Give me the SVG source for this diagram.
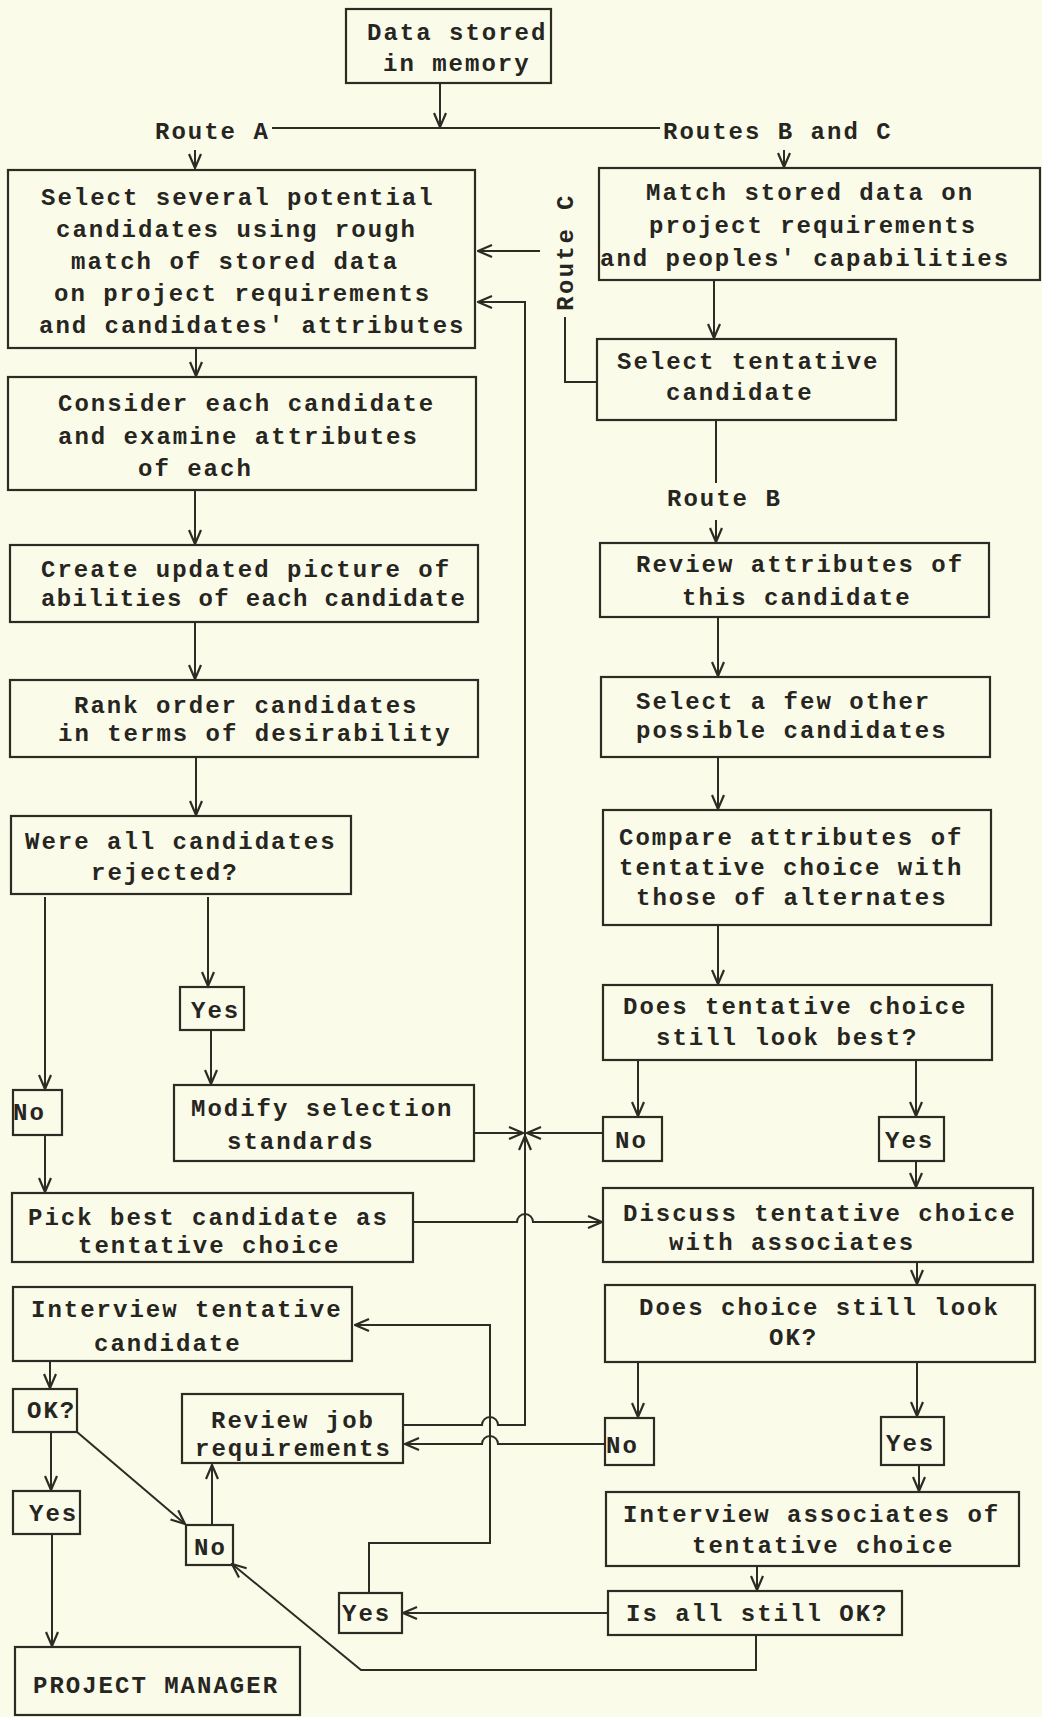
<svg xmlns="http://www.w3.org/2000/svg" width="1042" height="1717" viewBox="0 0 1042 1717">
<style>
.bg{fill:#fbfbe9}
.box{fill:none;stroke:#2c2b24;stroke-width:2.2}
.t{font-family:"Liberation Mono","Courier New",monospace;font-weight:bold;font-size:24px;letter-spacing:2px;fill:#26251f}
.rc{font-family:"Liberation Mono","Courier New",monospace;font-weight:bold;font-size:24px;letter-spacing:2.4px;fill:#26251f}
.c{fill:none;stroke:#2c2b24;stroke-width:2}
.a{marker-end:url(#ah)}
</style>
<defs>
<marker id="ah" viewBox="0 0 16 14" refX="15" refY="7" markerWidth="16" markerHeight="14" markerUnits="userSpaceOnUse" orient="auto">
<path d="M1,1 L15,7 L1,13" fill="none" stroke="#2c2b24" stroke-width="2.2"/>
</marker>
</defs>
<rect class="bg" x="0" y="0" width="1042" height="1717"/>

<g id="connectors">
<path class="c a" d="M440,83 V127"/>
<path class="c" d="M272,128 H660"/>
<path class="c a" d="M195,150 V168"/>
<path class="c a" d="M784,150 V167"/>
<path class="c a" d="M714,280 V338"/>
<path class="c" d="M597,382 H565 V317"/>
<path class="c a" d="M540,251 H478"/>
<path class="c a" d="M403,1425 H482 A8,8 0 0 1 498,1425 H525 V302 H478"/>
<path class="c a" d="M525,1162 V1136"/>
<path class="c a" d="M474,1133 H523"/>
<path class="c a" d="M603,1133 H527"/>
<path class="c a" d="M196,348 V376"/>
<path class="c a" d="M195,490 V544"/>
<path class="c a" d="M195,622 V679"/>
<path class="c a" d="M196,757 V815"/>
<path class="c a" d="M45,897 V1089"/>
<path class="c a" d="M45,1135 V1192"/>
<path class="c a" d="M208,897 V986"/>
<path class="c a" d="M211,1030 V1084"/>
<path class="c" d="M716,420 V483"/>
<path class="c a" d="M716,520 V542"/>
<path class="c a" d="M718,617 V676"/>
<path class="c a" d="M718,757 V809"/>
<path class="c a" d="M718,925 V984"/>
<path class="c a" d="M638,1060 V1116"/>
<path class="c a" d="M916,1060 V1116"/>
<path class="c a" d="M916,1161 V1187"/>
<path class="c a" d="M413,1222 H517 A8,8 0 0 1 533,1222 H602"/>
<path class="c a" d="M917,1262 V1284"/>
<path class="c a" d="M638,1362 V1417"/>
<path class="c a" d="M917,1362 V1416"/>
<path class="c a" d="M919,1465 V1491"/>
<path class="c a" d="M605,1444 H498 A8,8 0 0 0 482,1444 H405"/>
<path class="c a" d="M757,1566 V1590"/>
<path class="c a" d="M607,1613 H403"/>
<path class="c a" d="M369,1593 V1543 H490 V1325 H355"/>
<path class="c a" d="M756,1635 V1670 H361 L232,1564"/>
<path class="c a" d="M50,1361 V1388"/>
<path class="c a" d="M51,1432 V1490"/>
<path class="c a" d="M52,1534 V1646"/>
<path class="c a" d="M77,1432 L185,1524"/>
<path class="c a" d="M212,1525 V1465"/>
</g>

<g id="n-data"><rect class="box" x="346" y="9" width="205" height="74"/>
<text class="t" x="367" y="40">Data stored</text><text class="t" x="383" y="71">in memory</text></g>

<g id="l-routeA"><text class="t" x="155" y="139">Route A</text></g>
<g id="l-routesBC"><text class="t" x="663" y="139">Routes B and C</text></g>
<g id="l-routeC"><text class="rc" x="573" y="252" text-anchor="middle" transform="rotate(-90 573 252)">Route C</text></g>
<g id="l-routeB"><text class="t" x="667" y="506">Route B</text></g>

<g id="n-select-several"><rect class="box" x="8" y="170" width="467" height="178"/>
<text class="t" x="41" y="205">Select several potential</text>
<text class="t" x="56" y="237">candidates using rough</text>
<text class="t" x="71" y="269">match of stored data</text>
<text class="t" x="54" y="301">on project requirements</text>
<text class="t" x="39" y="333">and candidates' attributes</text></g>

<g id="n-match"><rect class="box" x="599" y="168" width="441" height="112"/>
<text class="t" x="646" y="200">Match stored data on</text>
<text class="t" x="649" y="233">project requirements</text>
<text class="t" x="600" y="266">and peoples' capabilities</text></g>

<g id="n-select-tentative"><rect class="box" x="597" y="339" width="299" height="81"/>
<text class="t" x="617" y="369">Select tentative</text>
<text class="t" x="666" y="400">candidate</text></g>

<g id="n-consider"><rect class="box" x="8" y="377" width="468" height="113"/>
<text class="t" x="58" y="411">Consider each candidate</text>
<text class="t" x="58" y="444">and examine attributes</text>
<text class="t" x="138" y="476">of each</text></g>

<g id="n-create"><rect class="box" x="10" y="545" width="468" height="77"/>
<text class="t" x="41" y="577">Create updated picture of</text>
<text class="t" x="41" y="606" textLength="426" lengthAdjust="spacing">abilities of each candidate</text></g>

<g id="n-rank"><rect class="box" x="10" y="680" width="468" height="77"/>
<text class="t" x="74" y="713">Rank order candidates</text>
<text class="t" x="58" y="741">in terms of desirability</text></g>

<g id="n-were"><rect class="box" x="11" y="816" width="340" height="78"/>
<text class="t" x="25" y="849">Were all candidates</text>
<text class="t" x="91" y="880">rejected?</text></g>

<g id="n-no1"><rect class="box" x="13" y="1090" width="49" height="45"/>
<text class="t" x="13" y="1120">No</text></g>

<g id="n-yes1"><rect class="box" x="180" y="987" width="64" height="43"/>
<text class="t" x="191" y="1018">Yes</text></g>

<g id="n-modify"><rect class="box" x="174" y="1085" width="300" height="76"/>
<text class="t" x="191" y="1116">Modify selection</text>
<text class="t" x="227" y="1149">standards</text></g>

<g id="n-review-attr"><rect class="box" x="600" y="543" width="389" height="74"/>
<text class="t" x="636" y="572">Review attributes of</text>
<text class="t" x="682" y="605">this candidate</text></g>

<g id="n-select-few"><rect class="box" x="601" y="677" width="389" height="80"/>
<text class="t" x="636" y="709">Select a few other</text>
<text class="t" x="636" y="738">possible candidates</text></g>

<g id="n-compare"><rect class="box" x="603" y="810" width="388" height="115"/>
<text class="t" x="619" y="845">Compare attributes of</text>
<text class="t" x="619" y="875">tentative choice with</text>
<text class="t" x="636" y="905">those of alternates</text></g>

<g id="n-does-tentative"><rect class="box" x="603" y="985" width="389" height="75"/>
<text class="t" x="623" y="1014">Does tentative choice</text>
<text class="t" x="656" y="1045">still look best?</text></g>

<g id="n-no2"><rect class="box" x="603" y="1117" width="59" height="44"/>
<text class="t" x="615" y="1148">No</text></g>

<g id="n-yes2"><rect class="box" x="879" y="1117" width="65" height="44"/>
<text class="t" x="885" y="1148">Yes</text></g>

<g id="n-pick"><rect class="box" x="12" y="1193" width="401" height="69"/>
<text class="t" x="28" y="1225">Pick best candidate as</text>
<text class="t" x="78" y="1253">tentative choice</text></g>

<g id="n-discuss"><rect class="box" x="603" y="1188" width="430" height="74"/>
<text class="t" x="623" y="1221">Discuss tentative choice</text>
<text class="t" x="669" y="1250">with associates</text></g>

<g id="n-does-choice"><rect class="box" x="605" y="1285" width="430" height="77"/>
<text class="t" x="639" y="1315">Does choice still look</text>
<text class="t" x="769" y="1345">OK?</text></g>

<g id="n-no3"><rect class="box" x="605" y="1418" width="49" height="47"/>
<text class="t" x="606" y="1453">No</text></g>

<g id="n-yes3"><rect class="box" x="881" y="1417" width="63" height="48"/>
<text class="t" x="886" y="1451">Yes</text></g>

<g id="n-interview-assoc"><rect class="box" x="606" y="1492" width="413" height="74"/>
<text class="t" x="623" y="1522">Interview associates of</text>
<text class="t" x="692" y="1553">tentative choice</text></g>

<g id="n-is-all"><rect class="box" x="608" y="1591" width="294" height="44"/>
<text class="t" x="626" y="1621">Is all still OK?</text></g>

<g id="n-yes4"><rect class="box" x="339" y="1593" width="63" height="40"/>
<text class="t" x="342" y="1621">Yes</text></g>

<g id="n-interview-tentative"><rect class="box" x="13" y="1287" width="339" height="74"/>
<text class="t" x="31" y="1317">Interview tentative</text>
<text class="t" x="94" y="1351">candidate</text></g>

<g id="n-ok"><rect class="box" x="13" y="1389" width="64" height="43"/>
<text class="t" x="27" y="1418">OK?</text></g>

<g id="n-review-job"><rect class="box" x="182" y="1394" width="221" height="69"/>
<text class="t" x="211" y="1428">Review job</text>
<text class="t" x="195" y="1456">requirements</text></g>

<g id="n-yes5"><rect class="box" x="13" y="1491" width="67" height="43"/>
<text class="t" x="29" y="1521">Yes</text></g>

<g id="n-no4"><rect class="box" x="186" y="1525" width="47" height="40"/>
<text class="t" x="194" y="1555">No</text></g>

<g id="n-pm"><rect class="box" x="15" y="1647" width="285" height="68"/>
<text class="t" x="33" y="1693">PROJECT MANAGER</text></g>
</svg>
